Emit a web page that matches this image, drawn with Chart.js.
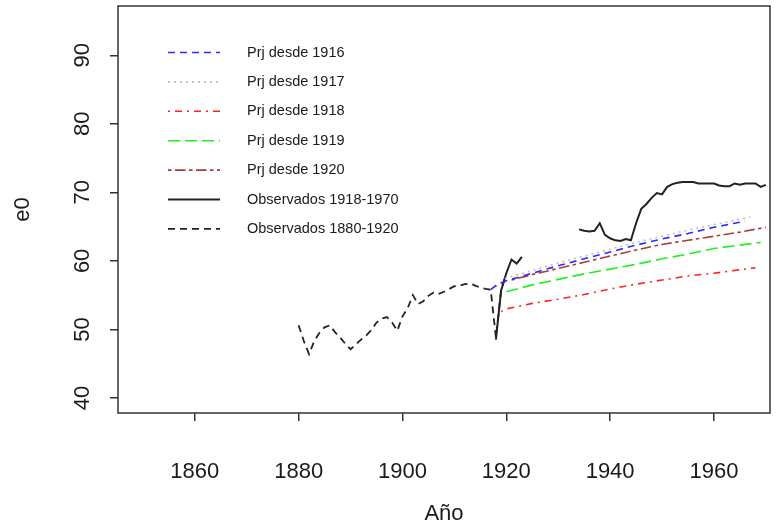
<!DOCTYPE html>
<html>
<head>
<meta charset="utf-8">
<script src="https://cdn.jsdelivr.net/npm/chart.js@4.4.1/dist/chart.umd.min.js"></script>
<style>
  html, body { margin: 0; padding: 0; background: #fff; }
</style>
</head>
<body>
<canvas id="chart" width="781" height="529"></canvas>
<script>
// Year helper for the observed series (x categories only)
function range(a, b) {
    const out = [];
    for (let y = a; y <= b; y++) out.push(y);
    return out;
}

// Observed life expectancy 1880-1920 (dashed black)
const obsEarlyYears = range(1880, 1920);
const obsEarlyVals = [
    50.6, 48.3, 46.4, 48.3, 49.5, 50.3, 50.6, 49.6, 48.8, 47.9,
    47.1, 47.8, 48.5, 49.1, 49.9, 51.0, 51.6, 51.8, 51.0, 49.8,
    51.9, 53.1, 55.0, 53.7, 54.1, 54.9, 55.4, 55.2, 55.5, 55.9,
    56.3, 56.4, 56.6, 56.7, 56.4, 56.1, 55.9, 55.8, 48.8, 55.7,
    58.2
];

// Observed 1918-1970 (solid black), gap 1924-1933
const obsLateYears = range(1918, 1970);
const obsLateVals = [
    48.5, 55.7, 58.2, 60.2, 59.6, 60.6,
    null, null, null, null, null, null, null, null, null, null,
    64.6, 64.4, 64.3, 64.4, 65.5, 63.8, 63.3, 63.0, 62.9, 63.2,
    63.0, 65.5, 67.6, 68.3, 69.2, 69.9, 69.7, 70.8, 71.2, 71.4,
    71.5, 71.5, 71.5, 71.3, 71.3, 71.3, 71.3, 71.0, 70.9, 70.9,
    71.3, 71.1, 71.3, 71.3, 71.3, 70.8, 71.1
];

// Projections
const prj1916Years = [1917, 1918, 1920, 1925, 1930, 1935, 1940, 1945, 1950, 1955, 1960, 1966];
const prj1916Vals  = [55.8, 56.4, 57.1, 58.2, 59.3, 60.3, 61.3, 62.3, 63.2, 64.0, 64.9, 65.8];

const prj1917Years = [1918, 1920, 1925, 1930, 1935, 1940, 1945, 1950, 1955, 1960, 1967];
const prj1917Vals  = [56.2, 57.5, 58.6, 59.7, 60.7, 61.7, 62.7, 63.6, 64.5, 65.3, 66.4];

const prj1918Years = [1919, 1920, 1925, 1930, 1935, 1940, 1945, 1950, 1955, 1960, 1965, 1968];
const prj1918Vals  = [52.6, 53.0, 53.8, 54.4, 55.1, 55.9, 56.6, 57.2, 57.8, 58.2, 58.7, 59.0];

const prj1919Years = [1920, 1925, 1930, 1935, 1940, 1945, 1950, 1955, 1960, 1965, 1969];
const prj1919Vals  = [55.5, 56.5, 57.3, 58.1, 58.8, 59.5, 60.3, 61.0, 61.8, 62.3, 62.7];

const prj1920Years = [1921, 1925, 1930, 1935, 1940, 1945, 1950, 1955, 1960, 1965, 1970];
const prj1920Vals  = [57.2, 58.0, 58.9, 59.8, 60.7, 61.6, 62.4, 63.0, 63.6, 64.2, 64.9];

// Axes
const xTicks = [1860, 1880, 1900, 1920, 1940, 1960];
const yTicks = [40, 50, 60, 70, 80, 90];

const FONT = "'Liberation Sans', Arial, sans-serif";
const INK = '#1a1a1a';

function pts(xs, ys) {
    return xs.map((x, i) => ({ x: x, y: ys[i] }));
}

function line(label, xs, ys, color, dash, width) {
    return {
        label: label,
        data: pts(xs, ys),
        borderColor: color,
        backgroundColor: color,
        borderWidth: width || 1.6,
        borderDash: dash,
        pointRadius: 0,
        fill: false,
        tension: 0,
        spanGaps: false
    };
}

const datasets = [
    line('Prj desde 1916', prj1916Years, prj1916Vals, '#2b2bff', [7, 5]),
    line('Prj desde 1917', prj1917Years, prj1917Vals, '#bdbdbd', [2, 4]),
    line('Prj desde 1918', prj1918Years, prj1918Vals, '#ff2020', [2, 5, 7, 5]),
    line('Prj desde 1919', prj1919Years, prj1919Vals, '#22ee22', [12, 5]),
    line('Prj desde 1920', prj1920Years, prj1920Vals, '#a83c3c', [3.5, 3.5, 10.5, 3.5]),
    line('Observados 1918-1970', obsLateYears, obsLateVals, '#222222', [], 2),
    line('Observados 1880-1920', obsEarlyYears, obsEarlyVals, '#222222', [7, 5], 1.8)
];

// R-style box around the plot region
const framePlugin = {
    id: 'frame',
    afterDraw(chart) {
        const { ctx, chartArea: a } = chart;
        ctx.save();
        ctx.strokeStyle = '#333';
        ctx.lineWidth = 1.5;
        ctx.strokeRect(a.left, a.top, a.right - a.left, a.bottom - a.top);
        ctx.restore();
    }
};

// Legend drawn inside the plot, top-left, like legend() in R
const insetLegend = {
    id: 'insetLegend',
    afterDraw(chart) {
        const ctx = chart.ctx;
        ctx.save();
        ctx.font = '14.5px ' + FONT;
        ctx.textBaseline = 'middle';
        ctx.fillStyle = INK;
        chart.data.datasets.forEach((ds, i) => {
            const y = 52.5 + i * 29.4;
            ctx.beginPath();
            ctx.setLineDash(ds.borderDash || []);
            ctx.strokeStyle = ds.borderColor;
            ctx.lineWidth = ds.borderWidth;
            ctx.moveTo(168, y);
            ctx.lineTo(220, y);
            ctx.stroke();
            ctx.setLineDash([]);
            ctx.fillText(ds.label, 247, y);
        });
        ctx.restore();
    }
};

new Chart(document.getElementById('chart'), {
    type: 'line',
    data: { datasets: datasets },
    options: {
        responsive: false,
        animation: false,
        layout: { padding: { top: 6, right: 11, left: 0, bottom: 0 } },
        plugins: {
            legend: { display: false },
            tooltip: { enabled: false }
        },
        scales: {
            x: {
                type: 'linear',
                min: 1845.2,
                max: 1970.8,
                afterBuildTicks: s => { s.ticks = xTicks.map(v => ({ value: v })); },
                afterFit: s => {
                    s.height = 116;
                    s.paddingLeft = 0; s.paddingRight = 0;
                },
                grid: { drawOnChartArea: false, drawTicks: true, tickLength: 8, color: '#333', lineWidth: 1.5 },
                border: { display: false },
                ticks: {
                    autoSkip: false, maxRotation: 0, padding: 38,
                    color: INK, font: { family: FONT, size: 22 },
                    callback: v => String(v)
                },
                title: {
                    display: true, text: 'Año', color: INK,
                    font: { family: FONT, size: 22 },
                    padding: { top: 0, bottom: 2 }
                }
            },
            y: {
                min: 37.8,
                max: 97.2,
                afterBuildTicks: s => { s.ticks = yTicks.map(v => ({ value: v })); },
                afterFit: s => {
                    s.width = 118;
                    s.paddingTop = 0; s.paddingBottom = 0;
                },
                grid: { drawOnChartArea: false, drawTicks: true, tickLength: 8, color: '#333', lineWidth: 1.5 },
                border: { display: false },
                ticks: {
                    minRotation: 90, maxRotation: 90, crossAlign: 'center', padding: 15,
                    color: INK, font: { family: FONT, size: 22 },
                    callback: v => String(v)
                },
                title: {
                    display: true, text: 'e0', color: INK,
                    font: { family: FONT, size: 22 },
                    padding: { top: 10 }
                }
            }
        }
    },
    plugins: [framePlugin, insetLegend]
});
</script>
</body>
</html>
